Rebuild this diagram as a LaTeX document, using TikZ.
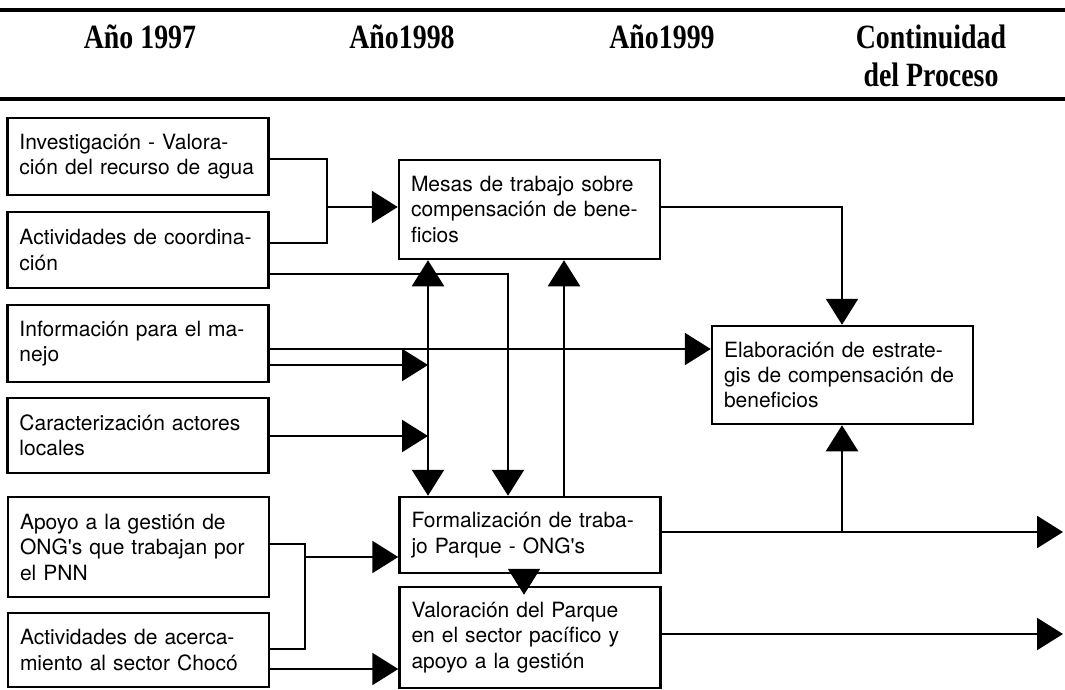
\documentclass[tikz,border=0pt]{standalone}
\usepackage{fontspec}
\usetikzlibrary{arrows.meta}
\newfontfamily\cajafont{TeX Gyre Heros}
\newfontfamily\titfont[FakeStretch=0.82]{Liberation Serif}
\begin{document}
\begin{tikzpicture}
  [x=1pt,y=-1pt,
   caja/.style={draw,line width=2.5pt,align=left,text width=237pt,inner xsep=12pt,inner ysep=0pt,
     font=\cajafont\fontsize{21}{25.5}\selectfont},
   titulo/.style={font=\titfont\bfseries\fontsize{34}{38}\selectfont,align=center,anchor=base,inner sep=0pt},
   punta/.tip={Triangle[length=26pt,width=32pt]},
   linea/.style={line width=2.4pt},
   flecha/.style={linea,-punta},
   doble/.style={linea,punta-punta}]
  \useasboundingbox (0,0) rectangle (1065,690);

  % cabecera
  \draw[line width=4pt] (0,10) -- (1065,10);
  \draw[line width=4pt] (0,99) -- (1065,99);
  \node[titulo] (a97) at (140,49) {Año 1997};
  \node[titulo] (a98) at (402,49) {Año1998};
  \node[titulo] (a99) at (662,49) {Año1999};
  \node[titulo] (cont) at (931,87) {Continuidad\\del Proceso};

  % cajas
  \node[caja,minimum height=77pt] (inv)    at (138,156.5) {Investigación - Valora-\\ción del recurso de agua};
  \node[caja,minimum height=76pt] (coord)  at (138,250)   {Actividades de coordina-\\ción};
  \node[caja,minimum height=77pt] (info)   at (138,343.5) {Información para el ma-\\nejo};
  \node[caja,minimum height=75pt] (carac)  at (138,435.5) {Caracterización actores\\locales};
  \node[caja,minimum height=100pt] (apoyo) at (138.5,547) {Apoyo a la gestión de\\ONG's que trabajan por\\el PNN};
  \node[caja,minimum height=74pt] (acerca) at (138.5,650) {Actividades de acerca-\\miento al sector Chocó};
  \node[caja,minimum height=99pt] (mesas)  at (529.5,209.5) {Mesas de trabajo sobre\\compensación de bene-\\ficios};
  \node[caja,minimum height=76pt] (form)   at (530,535)   {Formalización de traba-\\jo Parque - ONG's};
  \node[caja,minimum height=101pt] (valor) at (530,637.5) {Valoración del Parque\\en el sector pacífico y\\apoyo a la gestión};
  \node[caja,minimum height=98pt] (elab)   at (842.5,375) {Elaboración de estrate-\\gis de compensación de\\beneficios};

  % puntos de union
  \coordinate (jm) at (327,207);
  \coordinate (jf) at (305,557);
  \coordinate (je) at (842,532);
  \coordinate (v1) at (428,0);
  \coordinate (s1) at (1063,532);
  \coordinate (s2) at (1063,634);

  % conectores
  \draw[linea] (inv.east |- 0,159) -| (jm) |- (coord.east |- 0,243);
  \draw[flecha] (jm) -- (mesas.west |- jm);
  \draw[flecha] (coord.east |- 0,274) -| (form.north -| 508,0);
  \draw[doble] (mesas.south -| v1) -- (form.north -| v1);
  \draw[flecha] (form.north -| 564,0) -- (mesas.south -| 564,0);
  \draw[flecha] (info.east |- 0,349) -- (elab.west |- 0,349);
  \foreach \from/\y in {info/365,carac/436}
    \draw[flecha] (\from.east |- 0,\y) -- (v1 |- 0,\y);
  \draw[linea] (apoyo.east |- 0,544) -| (jf) |- (acerca.east |- 0,649);
  \draw[flecha] (jf) -- (form.west |- jf);
  \draw[flecha] (acerca.east |- 0,669) -- (valor.west |- 0,669);
  \draw[flecha,shorten >=-9pt] (form.south -| 524,0) -- (valor.north -| 524,0);
  \draw[flecha] (mesas.east |- 0,207) -| (elab.north -| je);
  \draw[flecha] (je) -- (elab.south -| je);
  \draw[flecha] (form.east |- s1) -- (s1);
  \draw[flecha] (valor.east |- s2) -- (s2);

\end{tikzpicture}
\end{document}
